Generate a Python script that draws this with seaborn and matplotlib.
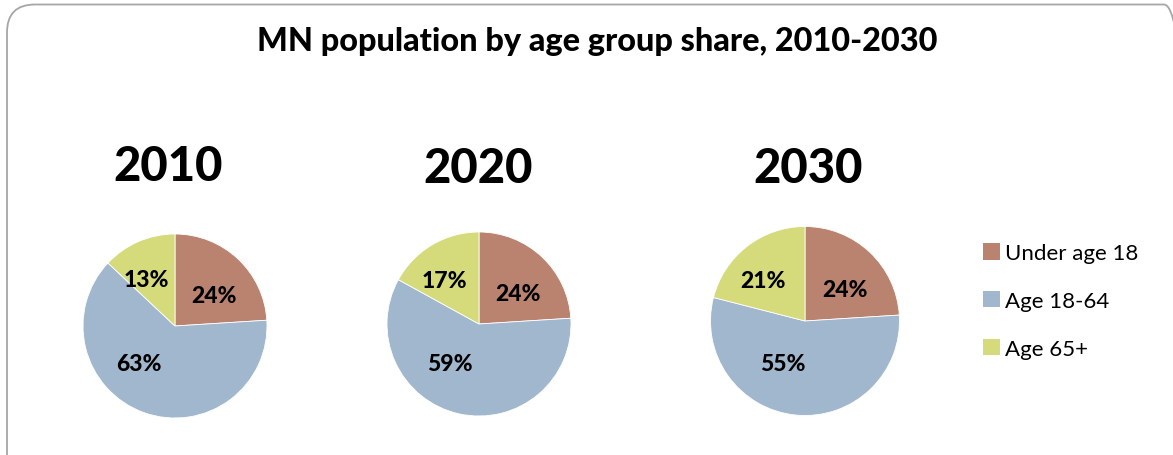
import matplotlib
matplotlib.use("Agg")
import matplotlib.pyplot as plt
import seaborn as sns
from matplotlib.patches import FancyBboxPatch, Patch

groups = ["Under age 18", "Age 18-64", "Age 65+"]
years = ["2010", "2020", "2030"]
share_2010 = [24, 63, 13]
share_2020 = [24, 59, 17]
share_2030 = [24, 55, 21]
shares = [share_2010, share_2020, share_2030]
colors = sns.color_palette(["#B98370", "#A0B7CD", "#D5DA7A"])

sns.set_theme(style="white")
plt.rcParams["font.family"] = ["Lato", "DejaVu Sans"]
plt.rcParams["text.color"] = "black"

W, H = 1173, 456
fig = plt.figure(figsize=(W / 100, H / 100), dpi=100)

# rounded frame (pixel coords, runs off right/bottom edge)
frame = FancyBboxPatch((7, -30), 1185, H - 5.5 + 30,
                       boxstyle="round,pad=0,rounding_size=28",
                       transform=None, fill=False, edgecolor="#A6A6A6",
                       linewidth=1.3)
fig.patches.append(frame)

fig.text(597 / W, 1 - 42 / H, "MN population by age group share, 2010-2030",
         ha="center", va="center", fontsize=23.3, fontweight="black")

# pie centre x, centre y, radius (pixels) and year label position
pie_boxes = [(175, 327, 92), (479, 325, 92), (805, 322, 94.5)]
year_pos = [(168, 167), (478, 169), (808, 169)]
# excel-style "best fit" label nudges per group, in pixels (right, down)
label_nudge = [(0, 11), (-17, -16), (-6, 6)]

for vals, year, (cx, cy, r), (yx, yy) in zip(shares, years, pie_boxes, year_pos):
    ax = fig.add_axes([(cx - r) / W, 1 - (cy + r) / H, 2 * r / W, 2 * r / H])
    wedges, _, autotexts = ax.pie(
        vals, colors=colors, startangle=90, counterclock=False,
        autopct=lambda p: f"{p:.0f}%", pctdistance=0.62,
        wedgeprops=dict(linewidth=0.6, edgecolor="white"),
        textprops=dict(fontsize=16.5, fontweight="black", color="black"),
    )
    for t, (dx, dy) in zip(autotexts, label_nudge):
        x, y = t.get_position()
        t.set_position((x + dx / r, y - dy / r))
    ax.set_xlim(-1, 1)
    ax.set_ylim(-1, 1)
    ax.set_aspect("auto")
    ax.axis("off")
    fig.text(yx / W, 1 - yy / H, year, ha="center", va="center",
             fontsize=34, fontweight="black")

handles = [Patch(facecolor=c, edgecolor="none") for c in colors]
fig.legend(handles, groups, loc="center left", bbox_to_anchor=(983 / W, 1 - 302 / H),
           frameon=False, fontsize=16, handlelength=0.75, handleheight=0.75,
           handletextpad=0.25, labelspacing=1.25, labelcolor="black",
           borderpad=0, borderaxespad=0)

fig.savefig("out.png", dpi=100)
